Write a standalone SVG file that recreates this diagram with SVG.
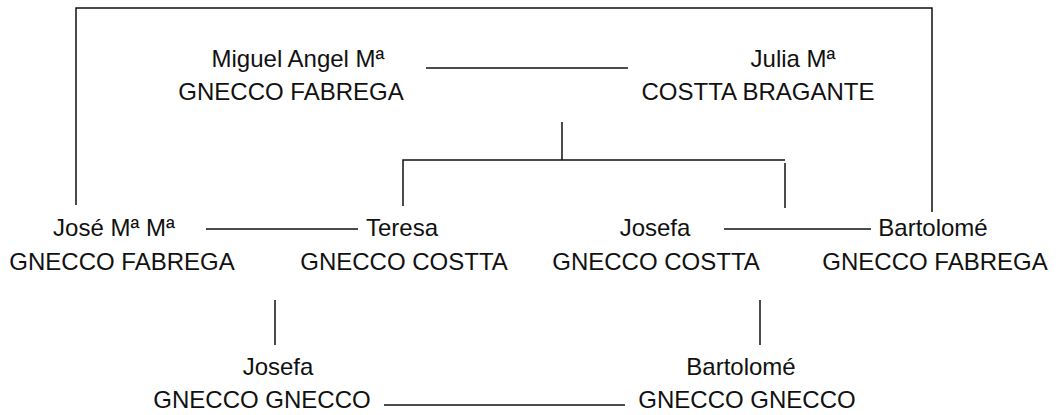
<svg xmlns="http://www.w3.org/2000/svg" width="1062" height="415" viewBox="0 0 1062 415">
<style>
text{font-family:"Liberation Sans",Arial,sans-serif;font-size:24px;fill:#111;text-anchor:middle}
.c line,.c polyline{stroke:#111;stroke-width:1.5;fill:none}
</style>
<rect width="1062" height="415" fill="#fff"/>
<g id="connectors" class="c">
<polyline points="76,205 76,8 932,8 932,212"/>
<line x1="426" y1="68" x2="628" y2="68"/>
<line x1="562" y1="122" x2="562" y2="160"/>
<polyline points="403,206 403,160 785,160"/>
<line x1="785" y1="163" x2="785" y2="208"/>
<line x1="206" y1="229" x2="358" y2="229"/>
<line x1="724" y1="229" x2="871" y2="229"/>
<line x1="275" y1="300" x2="275" y2="345"/>
<line x1="760" y1="300" x2="760" y2="345"/>
<line x1="384" y1="405" x2="625" y2="405"/>
</g>
<g id="miguel"><text x="298" y="67">Miguel Angel Mª</text><text x="291" y="100">GNECCO FABREGA</text></g>
<g id="julia"><text x="793" y="67">Julia Mª</text><text x="758" y="100">COSTTA BRAGANTE</text></g>
<g id="jose"><text x="114" y="236">José Mª Mª</text><text x="122" y="270">GNECCO FABREGA</text></g>
<g id="teresa"><text x="402" y="236">Teresa</text><text x="404" y="270">GNECCO COSTTA</text></g>
<g id="josefa1"><text x="655" y="236">Josefa</text><text x="656" y="270">GNECCO COSTTA</text></g>
<g id="bartolome1"><text x="933" y="236">Bartolomé</text><text x="935" y="270">GNECCO FABREGA</text></g>
<g id="josefa2"><text x="278" y="375">Josefa</text><text x="262" y="408">GNECCO GNECCO</text></g>
<g id="bartolome2"><text x="741" y="375">Bartolomé</text><text x="747" y="408">GNECCO GNECCO</text></g>
</svg>
